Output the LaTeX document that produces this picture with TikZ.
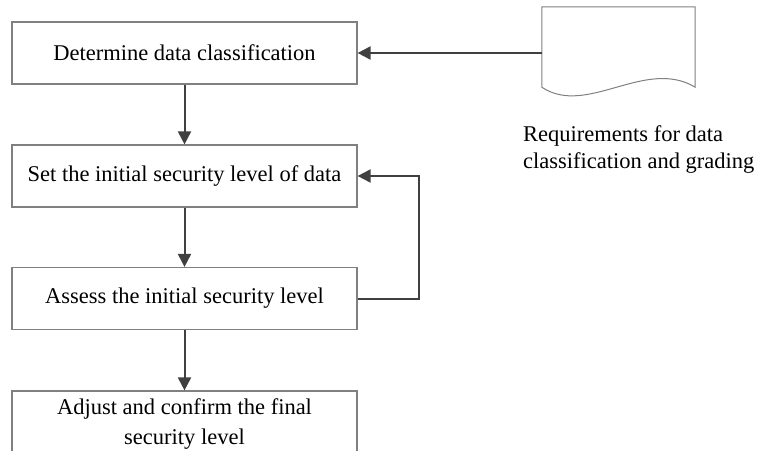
\documentclass[tikz,border=0pt]{standalone}
\usepackage{fontspec}
\setmainfont{Liberation Serif}
\usepackage{tikz}
\usetikzlibrary{arrows.meta,calc}
\definecolor{flowGray}{RGB}{64, 64, 64}
\definecolor{edgeGray}{RGB}{128, 128, 128}
\tikzset{
    stepbox/.style={draw=edgeGray, line width=1.2pt, fill=white,
        minimum width=345pt, minimum height=62pt, inner sep=0pt,
        align=center, font=\fontsize{22.5}{30}\selectfont},
    flow/.style={draw=flowGray, line width=2pt,
        -{Triangle[length=13pt,width=13pt]}}
}

\begin{document}
\begin{tikzpicture}[x=1pt,y=-1pt]
    \useasboundingbox (0,0) rectangle (758,450);
    \node[stepbox] (det) at (184.5,53) {Determine data classification};
    \node[stepbox] (set) at (184.5,176) {Set the initial security level of data};
    \node[stepbox] (ass) at (184.5,298.5) {Assess the initial security level};
    \node[stepbox, minimum height=66pt] (fin) at (184.5,424)
        {Adjust and confirm the final\\security level};
    \node[inner sep=0pt, minimum width=153pt, minimum height=80pt] (req) at (618.5,47) {};
    \draw[edgeGray, line width=1pt, fill=white]
        (req.south west) -- (req.north west) -- (req.north east) -- (req.south east)
        .. controls ($(req.south east)+(-50,-30)$) and ($(req.south west)+(45,30)$)
        .. (req.south west) -- cycle;
    \node[anchor=base west, inner sep=0pt, align=left,
        font=\fontsize{22.5}{26.5}\selectfont] (reqtext) at (523,168)
        {Requirements for data\\classification and grading};
    \draw[flow] (req.west |- det.east) -- (det.east);
    \draw[flow] (det.south) -- (set.north);
    \draw[flow] (set.south) -- (ass.north);
    \draw[flow] (ass.south) -- (fin.north);
    \draw[flow] (ass.east) -- ++(61,0) |- (set.east);
\end{tikzpicture}
\end{document}
